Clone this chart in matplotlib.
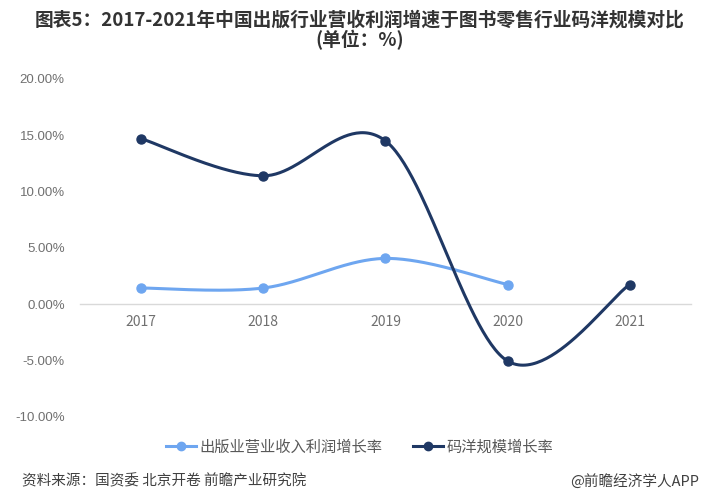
import numpy as np
import matplotlib
matplotlib.use('Agg')
import matplotlib.pyplot as plt
from matplotlib.lines import Line2D

plt.rcParams['font.family'] = ['Noto Sans CJK SC', 'DejaVu Sans']

years = ['2017', '2018', '2019', '2020', '2021']
profit_growth = [1.43, 1.43, 4.06, 1.74]          # 出版业营业收入利润增长率 (no 2021)
retail_growth = [14.7, 11.4, 14.5, -5.06, 1.74]   # 码洋规模增长率
yticks = [-10, -5, 0, 5, 10, 15, 20]

light = '#6ea6f0'
dark = '#1f3864'
gray = '#595959'
tick_gray = '#707070'


def smooth(xs, ys, n=60):
    # catmull-rom style bezier, like excel "smoothed line"
    xs = np.asarray(xs, float)
    ys = np.asarray(ys, float)
    px = np.concatenate([[xs[0]], xs, [xs[-1]]])
    py = np.concatenate([[ys[0]], ys, [ys[-1]]])
    outx, outy = [], []
    t = np.linspace(0, 1, n)
    for i in range(1, len(px) - 2):
        x0, x1, x2, x3 = px[i - 1], px[i], px[i + 1], px[i + 2]
        y0, y1, y2, y3 = py[i - 1], py[i], py[i + 1], py[i + 2]
        bx1, by1 = x1 + (x2 - x0) / 6, y1 + (y2 - y0) / 6
        bx2, by2 = x2 - (x3 - x1) / 6, y2 - (y3 - y1) / 6
        bx = (1 - t)**3 * x1 + 3 * (1 - t)**2 * t * bx1 + 3 * (1 - t) * t**2 * bx2 + t**3 * x2
        by = (1 - t)**3 * y1 + 3 * (1 - t)**2 * t * by1 + 3 * (1 - t) * t**2 * by2 + t**3 * y2
        outx.extend(bx)
        outy.extend(by)
    return np.array(outx), np.array(outy)


fig = plt.figure(figsize=(7.19, 4.99), dpi=100)
ax = fig.add_axes([0.1113, 0.165, 0.8497, 0.6767])

x1 = np.arange(len(profit_growth))
x2 = np.arange(len(retail_growth))

sx, sy = smooth(x1, profit_growth)
ax.plot(sx, sy, color=light, lw=2.2, solid_capstyle='round', zorder=3)
ax.plot(x1, profit_growth, 'o', color=light, ms=6.5, zorder=4)

sx, sy = smooth(x2, retail_growth)
ax.plot(sx, sy, color=dark, lw=2.2, solid_capstyle='round', zorder=3)
ax.plot(x2, retail_growth, 'o', color=dark, ms=6.5, zorder=4)

ax.set_xlim(-0.5, 4.5)
ax.set_ylim(-10, 20)
ax.set_xticks(x2)
ax.set_xticklabels(years, family='Liberation Sans', fontsize=10.5)
ax.set_yticks(yticks)
ax.set_yticklabels([f'{v:.2f}%' for v in yticks], family='Liberation Sans', fontsize=9.5)
ax.tick_params(axis='x', length=0, pad=8, labelcolor=tick_gray)
ax.tick_params(axis='y', length=0, pad=11, labelcolor=tick_gray)

for s in ['left', 'top', 'right']:
    ax.spines[s].set_visible(False)
ax.spines['bottom'].set_position(('data', 0))
ax.spines['bottom'].set_color('#d9d9d9')
ax.spines['bottom'].set_linewidth(1)

fig.text(0.5, 0.96, '图表5：2017-2021年中国出版行业营收利润增速于图书零售行业码洋规模对比',
         ha='center', va='center', fontsize=13.5, fontweight='bold', color='#333333')
fig.text(0.5, 0.919, '(单位：%)', ha='center', va='center', fontsize=13.5,
         fontweight='bold', color='#333333')

handles = [
    Line2D([0], [0], color=light, lw=2.2, marker='o', ms=6),
    Line2D([0], [0], color=dark, lw=2.2, marker='o', ms=6),
]
fig.legend(handles, ['出版业营业收入利润增长率', '码洋规模增长率'], loc='center',
           bbox_to_anchor=(0.5, 0.104), ncol=2, frameon=False, fontsize=11,
           handlelength=2.0, handletextpad=0.2, columnspacing=2.0, labelcolor=gray)

fig.text(0.031, 0.036, '资料来源：国资委 北京开卷 前瞻产业研究院', ha='left', va='center',
         fontsize=10.5, color='#404040')
fig.text(0.973, 0.036, '@前瞻经济学人APP', ha='right', va='center',
         fontsize=10.5, color='#404040')

fig.savefig('out.png', dpi=100)
